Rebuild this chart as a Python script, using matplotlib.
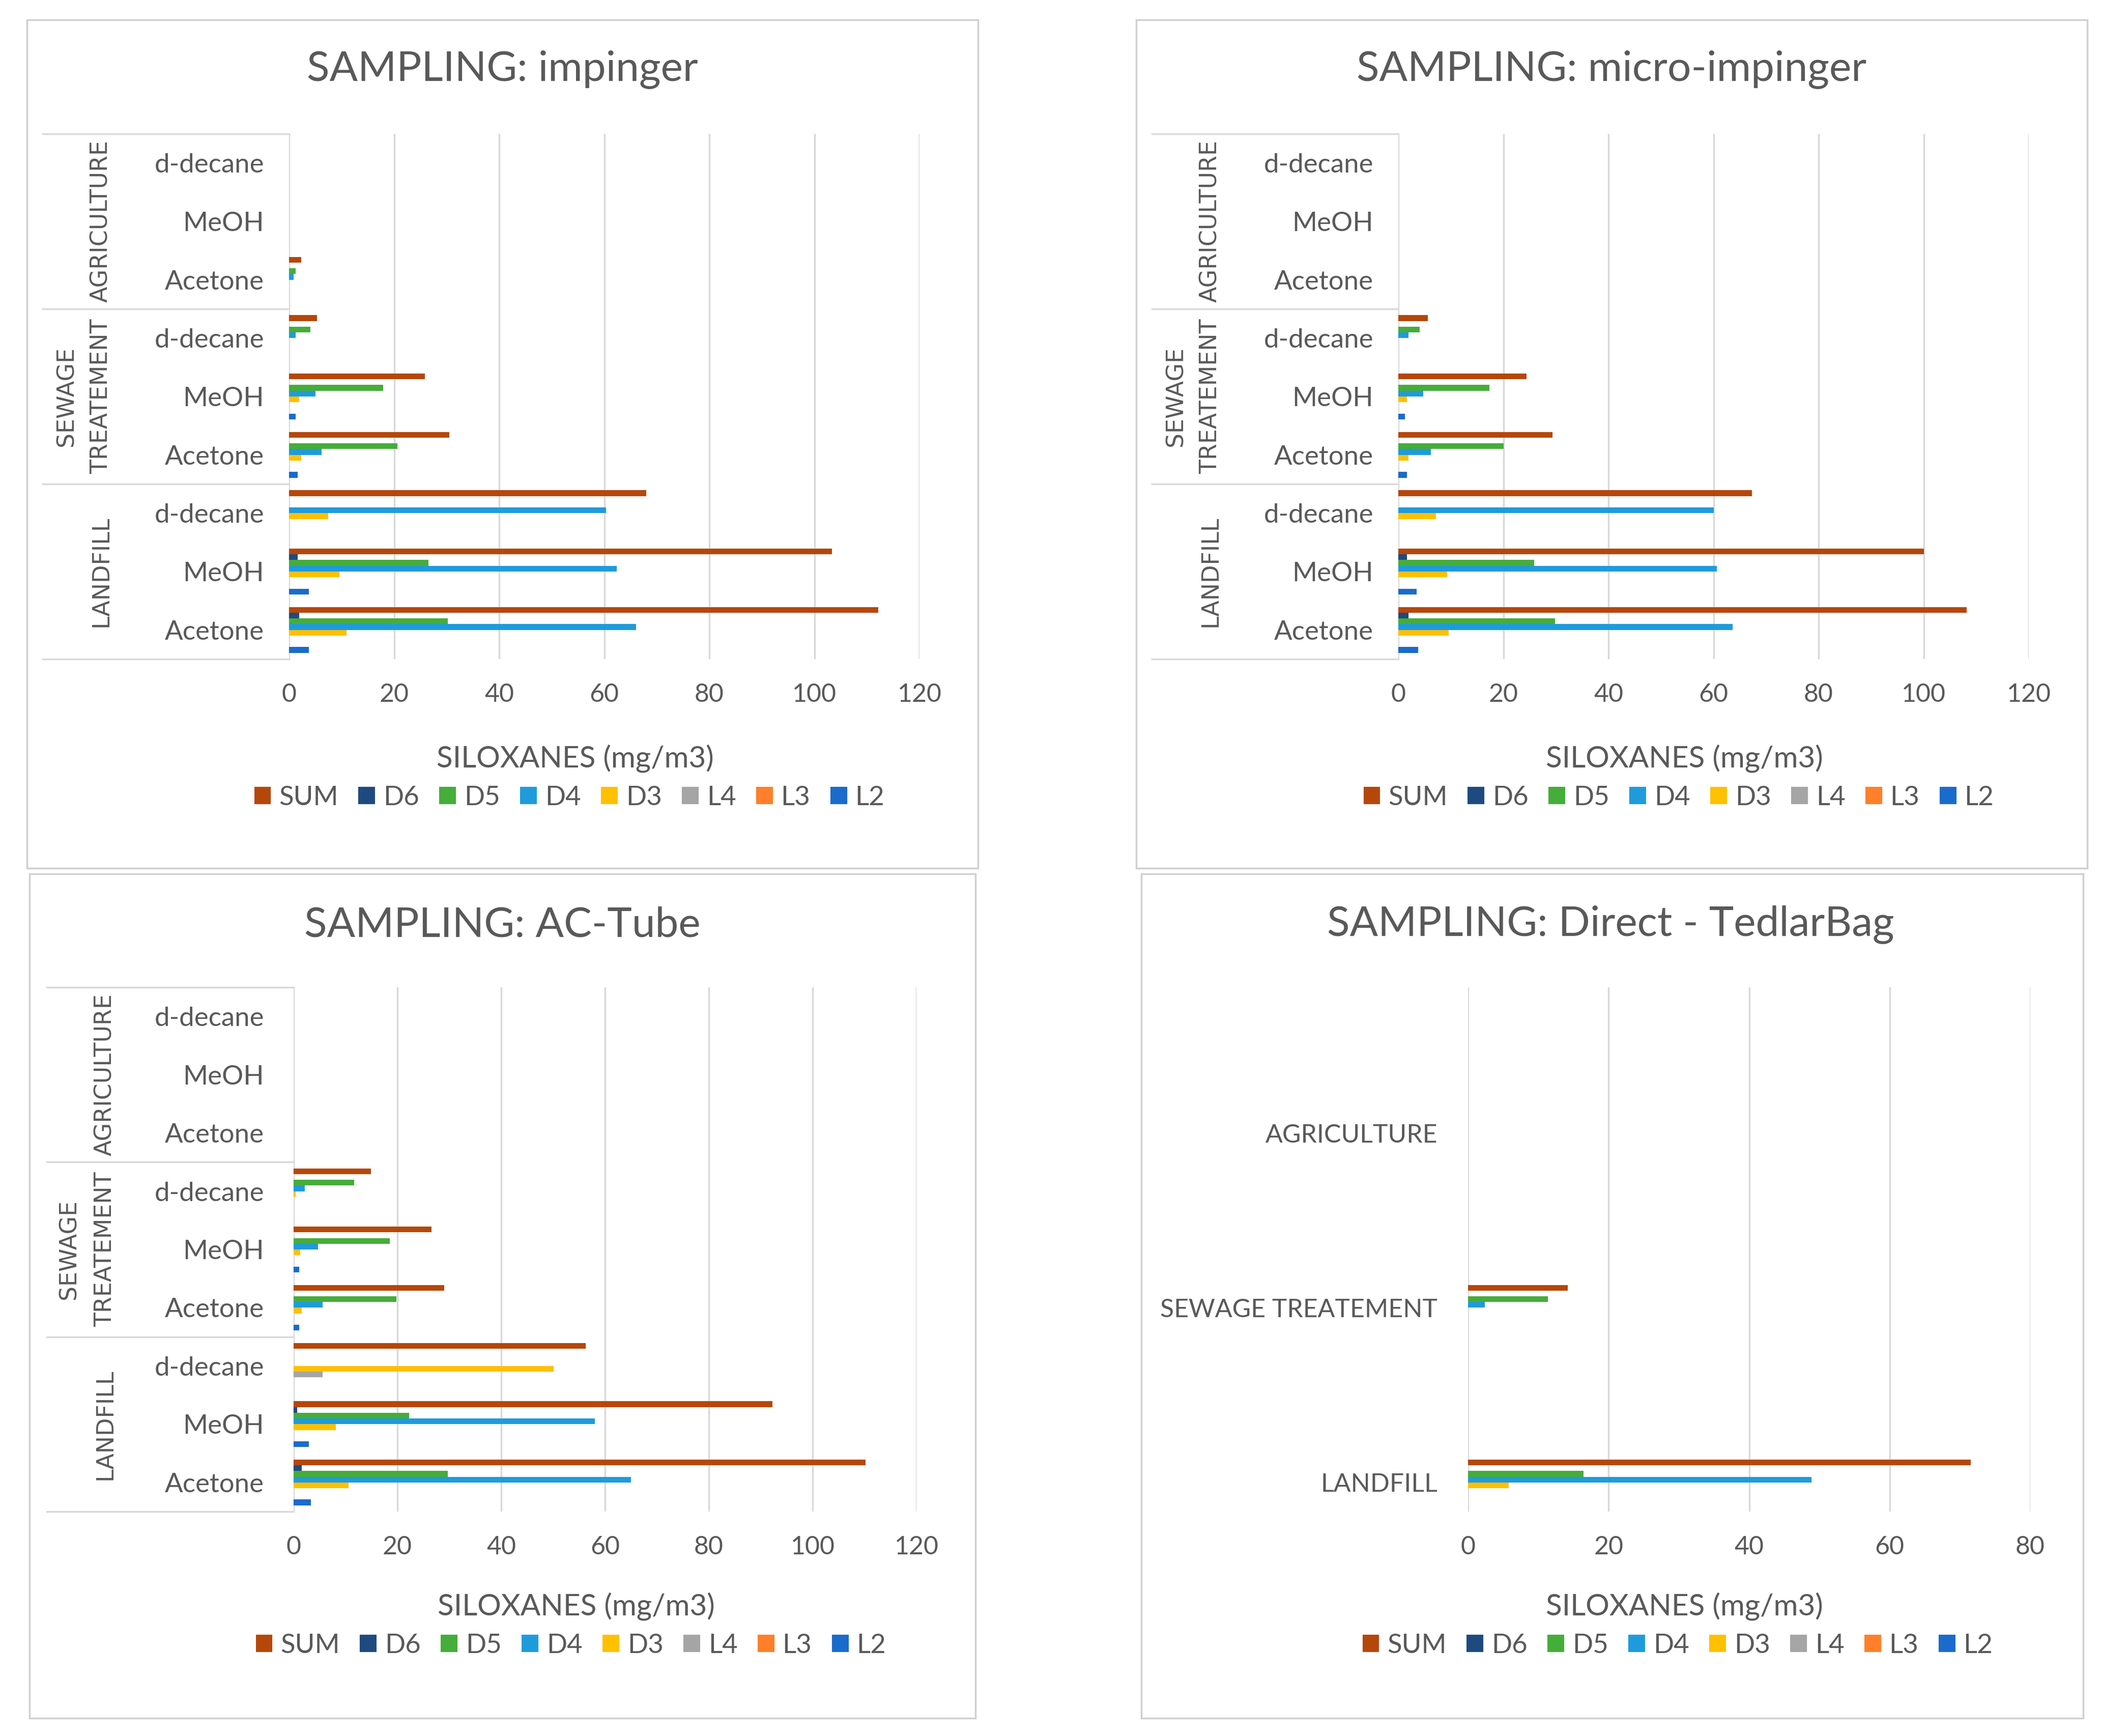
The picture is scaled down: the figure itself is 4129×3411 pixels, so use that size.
import matplotlib
matplotlib.use("Agg")
import matplotlib.pyplot as plt
from matplotlib.patches import Rectangle
import numpy as np

plt.rcParams['font.family'] = ['Lato', 'DejaVu Sans']

# categories, bottom to top (as Excel draws them)
groups = ['LANDFILL', 'SEWAGE TREATEMENT', 'AGRICULTURE']
solvents = ['Acetone', 'MeOH', 'd-decane']
series = ['SUM', 'D6', 'D5', 'D4', 'D3', 'L4', 'L3', 'L2']

# values in mg/m3, one row per series, columns:
# LF Acetone, LF MeOH, LF d-decane, SW Acetone, SW MeOH, SW d-decane, AG Acetone, AG MeOH, AG d-decane
impinger = [
    [112.2, 103.3, 68.0, 30.5, 25.9, 5.3, 2.3, 0, 0],   # SUM
    [1.9, 1.6, 0, 0, 0, 0, 0, 0, 0],                    # D6
    [30.2, 26.5, 0, 20.6, 17.9, 4.1, 1.3, 0, 0],        # D5
    [66.1, 62.4, 60.3, 6.2, 5.0, 1.3, 0.9, 0, 0],       # D4
    [10.9, 9.6, 7.5, 2.3, 1.9, 0, 0, 0, 0],             # D3
    [0, 0, 0, 0, 0, 0, 0, 0, 0],                        # L4
    [0, 0, 0, 0, 0, 0, 0, 0, 0],                        # L3
    [3.8, 3.8, 0, 1.6, 1.3, 0, 0, 0, 0],                # L2
]
micro_impinger = [
    [108.2, 100.0, 67.3, 29.3, 24.4, 5.6, 0, 0, 0],
    [1.9, 1.6, 0, 0, 0, 0, 0, 0, 0],
    [29.8, 25.9, 0, 20.0, 17.3, 4.1, 0, 0, 0],
    [63.6, 60.6, 60.0, 6.2, 4.7, 1.9, 0, 0, 0],
    [9.6, 9.3, 7.2, 1.9, 1.6, 0, 0, 0, 0],
    [0, 0, 0, 0, 0, 0, 0, 0, 0],
    [0, 0, 0, 0, 0, 0, 0, 0, 0],
    [3.8, 3.5, 0, 1.6, 1.3, 0, 0, 0, 0],
]
ac_tube = [
    [110.2, 92.3, 56.3, 29.0, 26.6, 14.9, 0, 0, 0],
    [1.6, 0.7, 0, 0, 0, 0, 0, 0, 0],
    [29.7, 22.3, 0, 19.8, 18.5, 11.7, 0, 0, 0],
    [65.0, 58.0, 0, 5.6, 4.7, 2.2, 0, 0, 0],
    [10.6, 8.1, 50.1, 1.6, 1.3, 0.4, 0, 0, 0],
    [0, 0, 5.6, 0, 0, 0, 0, 0, 0],
    [0, 0, 0, 0, 0, 0, 0, 0, 0],
    [3.3, 2.9, 0, 1.1, 1.1, 0, 0, 0, 0],
]
tedlar_bag = [
    [71.5, 0, 0, 14.2, 0, 0, 0, 0, 0],
    [0, 0, 0, 0, 0, 0, 0, 0, 0],
    [16.4, 0, 0, 11.4, 0, 0, 0, 0, 0],
    [48.9, 0, 0, 2.4, 0, 0, 0, 0, 0],
    [5.8, 0, 0, 0, 0, 0, 0, 0, 0],
    [0, 0, 0, 0, 0, 0, 0, 0, 0],
    [0, 0, 0, 0, 0, 0, 0, 0, 0],
    [0, 0, 0, 0, 0, 0, 0, 0, 0],
]

colors = {'SUM': '#B5470A', 'D6': '#1F4A80', 'D5': '#45AD3A', 'D4': '#1F9BDC',
          'D3': '#FFC000', 'L4': '#A5A5A5', 'L3': '#FF7F2A', 'L2': '#1A6BCB'}
TXT = '#595959'
GRID = '#D9D9D9'

W, H = 4129, 3411
fig = plt.figure(figsize=(W / 100, H / 100), dpi=100)
fig.patch.set_facecolor('white')

# layout in output pixels; outer = (x of last word line, x of first word line)
panels = [
    dict(title='SAMPLING: impinger', data=impinger, border=(53, 39, 1922, 1706),
         axes=(568, 263, 1807, 1295), box=84, outer=(199, 131), lab_right=519,
         title_xy=(987, 137), xlab_xy=(1130, 1490), leg_xy=(1119, 1567), xmax=120),
    dict(title='SAMPLING: micro-impinger', data=micro_impinger, border=(2233, 39, 4102, 1706),
         axes=(2748, 263, 3987, 1295), box=2264, outer=(2379, 2311), lab_right=2699,
         title_xy=(3167, 137), xlab_xy=(3310, 1490), leg_xy=(3299, 1567), xmax=120),
    dict(title='SAMPLING: AC-Tube', data=ac_tube, border=(58, 1717, 1917, 3376),
         axes=(577, 1940, 1801, 2970), box=92, outer=(207, 136), lab_right=519,
         title_xy=(987, 1817), xlab_xy=(1132, 3156), leg_xy=(1122, 3233), xmax=120),
    dict(title='SAMPLING: Direct - TedlarBag', data=tedlar_bag, border=(2243, 1717, 4094, 3376),
         axes=(2885, 1940, 3990, 2970), box=None, outer=None, lab_right=2825,
         title_xy=(3165, 1817), xlab_xy=(3310, 3156), leg_xy=(3297, 3233), xmax=80),
]

h = 1 / (len(series) + 2.19)   # Excel default gap width 219%
ypos = np.arange(len(groups) * len(solvents))

for p in panels:
    x0, y0, x1, y1 = p['border']
    fig.add_artist(Rectangle((x0 / W, 1 - y1 / H), (x1 - x0) / W, (y1 - y0) / H,
                             transform=fig.transFigure, fill=False,
                             edgecolor='#D0D0D0', lw=2.5))
    l, t, r, b = p['axes']
    ax = fig.add_axes([l / W, 1 - b / H, (r - l) / W, (b - t) / H])

    for i, name in enumerate(series):
        ax.barh(ypos + (3.5 - i) * h, p['data'][i], height=h,
                color=colors[name], label=name, linewidth=0)

    ax.set_xlim(0, p['xmax'])
    ax.set_ylim(-0.5, 8.5)
    ax.set_xticks(range(0, p['xmax'] + 1, 20))
    ax.grid(axis='x', color=GRID, lw=2.5)
    ax.set_axisbelow(True)
    for s in ax.spines.values():
        s.set_visible(False)
    ax.tick_params(axis='x', length=0, pad=34, labelsize=36, labelcolor=TXT)
    ax.tick_params(axis='y', length=0, pad=(l - p['lab_right']) * 0.72,
                   labelsize=38, labelcolor=TXT)

    if p['outer'] is not None:
        ax.set_yticks(ypos)
        ax.set_yticklabels(solvents * len(groups))
        tr = ax.get_yaxis_transform()
        bx = (p['box'] - l) / (r - l)
        for yb in [-0.5, 2.5, 5.5, 8.5]:
            ax.plot([bx, 0], [yb, yb], transform=tr, clip_on=False,
                    color=GRID, lw=2.5)
        for g, name in enumerate(groups):
            words = name.split(' ')
            xs = [p['outer'][1], p['outer'][0]] if len(words) == 2 else [p['outer'][0]]
            for word, xw in zip(words, xs):
                ax.text((xw - l) / (r - l), 3 * g + 1, word,
                        transform=tr, rotation=90, ha='center', va='center',
                        family='DejaVu Sans', fontsize=33, color=TXT)
    else:
        ax.set_yticks(ypos[::3])
        ax.set_yticklabels(groups, fontsize=36)

    fig.text(p['title_xy'][0] / W, 1 - p['title_xy'][1] / H, p['title'],
             ha='center', va='center', fontsize=59, color=TXT)
    fig.text(p['xlab_xy'][0] / W, 1 - p['xlab_xy'][1] / H, 'SILOXANES (mg/m3)',
             ha='center', va='center', fontsize=42, color=TXT)
    ax.legend(loc='center', bbox_to_anchor=(p['leg_xy'][0] / W, 1 - p['leg_xy'][1] / H),
              bbox_transform=fig.transFigure, ncol=len(series), frameon=False,
              fontsize=38, labelcolor=TXT, handlelength=0.62, handleheight=0.62,
              handletextpad=0.3, columnspacing=0.75)

fig.savefig('out.png', dpi=100, facecolor='white')
